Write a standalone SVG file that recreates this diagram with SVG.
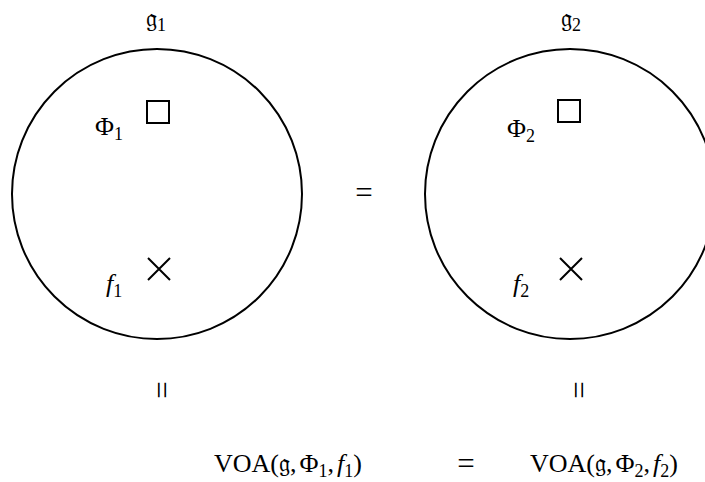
<svg xmlns="http://www.w3.org/2000/svg" width="705" height="482" viewBox="0 0 705 482">
<style>
.t{font-family:"Liberation Serif","DejaVu Serif",serif;font-size:26px;fill:#000}
.i{font-style:italic}
.s{font-size:18px}
.fr{font-family:"DejaVu Serif","DejaVu Sans","Noto Sans",serif;font-size:25px}
.eq{font-family:"Liberation Serif",serif;font-size:31px}
.c{fill:none;stroke:#000;stroke-width:2}
.m{fill:none;stroke:#000;stroke-width:2}
</style>
<rect width="705" height="482" fill="#fff"/>
<g id="left">
  <text class="t" x="146" y="27"><tspan class="fr">𝔤</tspan><tspan class="s" dy="4">1</tspan></text>
  <circle class="c" cx="157" cy="194" r="145"/>
  <text class="t" x="95" y="135">Φ<tspan class="s" dy="5">1</tspan></text>
  <rect class="m" x="147" y="101" width="22" height="22"/>
  <text class="t i" x="106" y="292">f<tspan class="s" dy="5" font-style="normal">1</tspan></text>
  <path class="m" d="M148 258 L170 280 M170 258 L148 280"/>
</g>
<g id="right">
  <text class="t" x="561" y="27"><tspan class="fr">𝔤</tspan><tspan class="s" dy="4">2</tspan></text>
  <circle class="c" cx="570" cy="194" r="145"/>
  <text class="t" x="507" y="137">Φ<tspan class="s" dy="5">2</tspan></text>
  <rect class="m" x="558" y="100" width="22" height="22"/>
  <text class="t i" x="513" y="292">f<tspan class="s" dy="5" font-style="normal">2</tspan></text>
  <path class="m" d="M560 258 L582 280 M582 258 L560 280"/>
</g>
<g id="connectors">
  <text class="eq" x="364" y="203" text-anchor="middle">=</text>
  <text class="eq" transform="translate(160,390) rotate(90)" text-anchor="middle" dy="9">=</text>
  <text class="eq" transform="translate(577,390) rotate(90)" text-anchor="middle" dy="9">=</text>
  <text class="eq" x="466" y="474" text-anchor="middle">=</text>
</g>
<g id="bottom">
  <text class="t" x="214" y="472">VOA(<tspan class="fr">𝔤</tspan>,<tspan dx="3">Φ</tspan><tspan class="s" dy="5">1</tspan><tspan dy="-5">,</tspan><tspan class="i" dx="3">f</tspan><tspan class="s" dy="5">1</tspan><tspan dy="-5">)</tspan></text>
  <text class="t" x="530" y="472">VOA(<tspan class="fr">𝔤</tspan>,<tspan dx="3">Φ</tspan><tspan class="s" dy="5">2</tspan><tspan dy="-5">,</tspan><tspan class="i" dx="3">f</tspan><tspan class="s" dy="5">2</tspan><tspan dy="-5">)</tspan></text>
</g>
</svg>
